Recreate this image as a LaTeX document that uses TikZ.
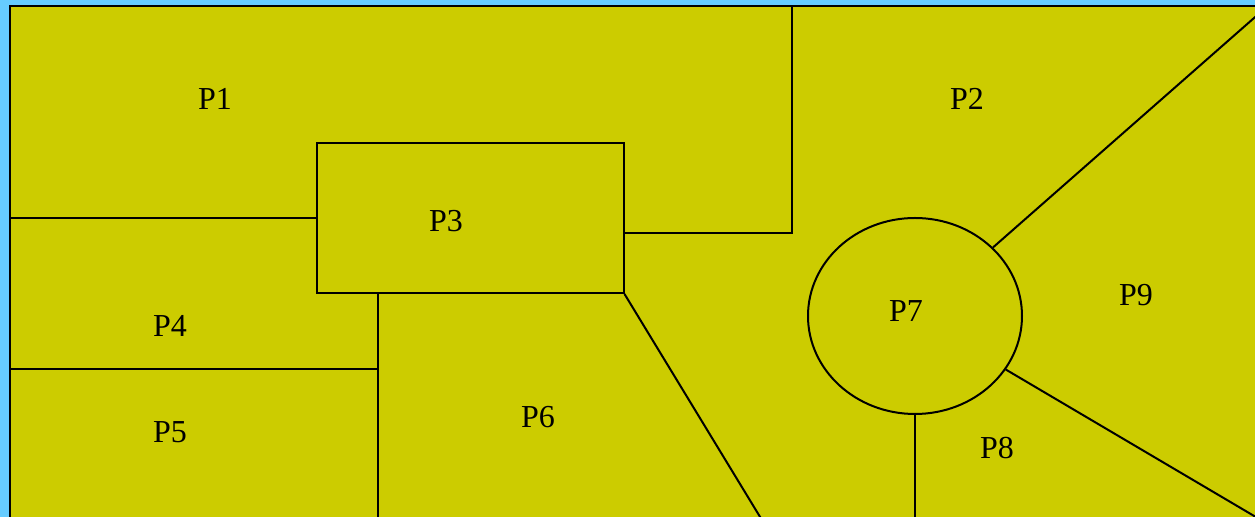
\documentclass[tikz,border=0pt]{standalone}
\usepackage{fontspec}
\setmainfont{Liberation Serif}
\usetikzlibrary{shapes.geometric}
\definecolor{skyblue}{RGB}{102,204,255}
\definecolor{fieldyellow}{RGB}{204,204,0}
\begin{document}
\begin{tikzpicture}[x=0.5pt,y=-0.5pt,
  region/.style={draw=black,line width=1pt,fill=fieldyellow},
  divider/.style={draw=black,line width=1pt},
  lbl/.style={font=\fontsize{16}{18}\selectfont,inner sep=0pt,text=black}]
\clip (0,0) rectangle (1255,517);
\fill[skyblue] (0,0) rectangle (1255,517);
\draw[region] (10,6) rectangle (1300,560);
% shapes
\node[region,rectangle,minimum width=153.5pt,minimum height=75pt,inner sep=0pt] (P3) at (470,218) {};
\node[region,ellipse,minimum width=107pt,minimum height=98pt,inner sep=0pt] (P7) at (915,316) {};
% coordinates
\coordinate (topP12) at (792,6);
\coordinate (cornerP12) at (792,233);
\coordinate (leftP14) at (10,218);
\coordinate (leftP45) at (10,369);
\coordinate (footP56) at (378,530);
\coordinate (footP6) at (768,530);
\coordinate (edgeP9) at (1262,11);
\coordinate (edgeP89) at (1266,523);
\coordinate (footP8) at (915,530);
% dividers
\draw[divider] (topP12) -- (cornerP12) -- (P3.east |- cornerP12);
\draw[divider] (leftP14) -- (P3.west |- leftP14);
\draw[divider] (P3.south -| footP56) -- (footP56);
\draw[divider] (leftP45) -- (leftP45 -| footP56);
\draw[divider] (P3.south east) -- (footP6);
\draw[divider] (P7) -- (edgeP9);
\draw[divider] (P7) -- (edgeP89);
\draw[divider] (P7.south) -- (footP8);
% labels
\node[lbl] (lP1) at (215,99) {P1};
\node[lbl] (lP2) at (967,99) {P2};
\node[lbl] (lP3) at (446,221) {P3};
\node[lbl] (lP4) at (170,326) {P4};
\node[lbl] (lP5) at (170,432) {P5};
\node[lbl] (lP6) at (538,417) {P6};
\node[lbl] (lP7) at (906,311) {P7};
\node[lbl] (lP8) at (997,448) {P8};
\node[lbl] (lP9) at (1136,295) {P9};
\end{tikzpicture}
\end{document}
